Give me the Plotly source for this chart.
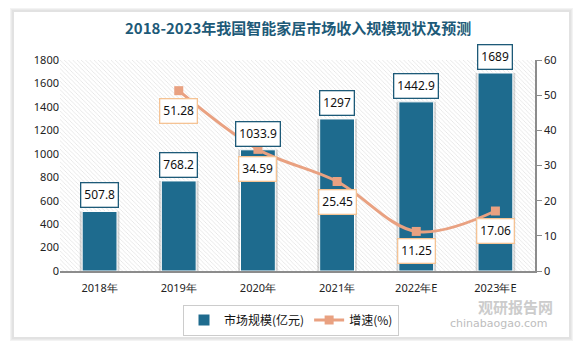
import plotly.graph_objects as go

years = ["2018年", "2019年", "2020年", "2021年", "2022年E", "2023年E"]
revenue = [507.8, 768.2, 1033.9, 1297, 1442.9, 1689]
growth = [None, 51.28, 34.59, 25.45, 11.25, 17.06]
bar_labels = ["507.8", "768.2", "1033.9", "1297", "1442.9", "1689"]
growth_labels = [None, "51.28", "34.59", "25.45", "11.25", "17.06"]

BAR = "#1E6B8E"
LINE = "#E9A181"
TITLE = "#1D5A78"

fig = go.Figure()

# hatched plot background (decorative, on hidden base axes)
fig.add_trace(go.Bar(x=[0.5], y=[1], width=[1], xaxis="x", yaxis="y",
                     marker=dict(color="white", line=dict(width=0),
                                 pattern=dict(shape="\\", fgcolor="#C4C4C4", bgcolor="white",
                                              size=3, solidity=0.25)),
                     showlegend=False, hoverinfo="skip"))

# bar shadow
fig.add_trace(go.Bar(x=years, y=revenue, xaxis="x2", yaxis="y2", width=0.5,
                     marker=dict(color="rgba(110,110,110,0.28)", line=dict(width=0)),
                     showlegend=False, hoverinfo="skip"))
fig.add_trace(go.Bar(x=years, y=revenue, xaxis="x2", yaxis="y2", width=0.44,
                     name="市场规模(亿元)",
                     marker=dict(color=BAR, line=dict(color="white", width=1))))
fig.add_trace(go.Scatter(x=years, y=growth, xaxis="x2", yaxis="y3", name="增速(%)",
                         mode="lines+markers", line=dict(color=LINE, width=3, shape="spline"),
                         marker=dict(symbol="square", size=9, color=LINE)))

for x, v, t in zip(years, revenue, bar_labels):
    fig.add_annotation(x=x, y=v, xref="x2", yref="y2", text=t, showarrow=False,
                       yshift=16, bgcolor="white", bordercolor=TITLE, borderwidth=1.3,
                       borderpad=3, font=dict(size=12, color="#111", family="Noto Sans"))
for x, v, t in zip(years, growth, growth_labels):
    if v is None:
        continue
    fig.add_annotation(x=x, y=v, xref="x2", yref="y3", text=t, showarrow=False,
                       yshift=-20, bgcolor="white", bordercolor="#F5C394", borderwidth=1.3,
                       borderpad=3, font=dict(size=12, color="#111", family="Noto Sans"))

fig.add_annotation(x=0.5, y=1, xref="paper", yref="paper", yanchor="bottom", yshift=20,
                   text="<b>2018-2023年我国智能家居市场收入规模现状及预测</b>", showarrow=False,
                   font=dict(size=15, color=TITLE, family="Noto Sans CJK SC"))

# watermark
fig.add_annotation(x=(555 - 60) / 475, y=(271 - 306) / 211, xref="paper", yref="paper",
                   text="<b>观研报告网</b>", showarrow=False, xanchor="right", yanchor="middle",
                   font=dict(size=15, color="#CCCCCC", family="Noto Sans CJK SC"))
fig.add_annotation(x=(550 - 60) / 475, y=(271 - 323) / 211, xref="paper", yref="paper",
                   text="chinabaogao.com", showarrow=False, xanchor="right", yanchor="middle",
                   font=dict(size=11, color="#BDBDBD", family="DejaVu Sans"))

# card with shadow
shapes = []
for i, c in enumerate(["#F3F3F3", "#EAEAEA", "#E2E2E2"]):
    d = 4 - i
    shapes.append(dict(type="rect", xref="paper", yref="paper", layer="below",
                       x0=(14 - d - 60) / 475, x1=(569 + d - 60) / 475,
                       y0=(271 - 337 - d) / 211, y1=(271 - 12 + d) / 211,
                       line=dict(width=0), fillcolor=c))
shapes.append(dict(type="rect", xref="paper", yref="paper", layer="below",
                   x0=(14 - 60) / 475, x1=(569 - 60) / 475,
                   y0=(271 - 337) / 211, y1=(271 - 12) / 211,
                   line=dict(width=0), fillcolor="white"))

tickfont = dict(size=11, color="#222", family="Noto Sans")
fig.update_layout(
    width=583, height=352,
    margin=dict(l=60, r=48, t=60, b=81),
    paper_bgcolor="white", plot_bgcolor="rgba(0,0,0,0)",
    shapes=shapes,
    barmode="overlay",
    xaxis=dict(range=[0, 1], visible=False, fixedrange=True),
    yaxis=dict(range=[0, 1], visible=False, fixedrange=True),
    xaxis2=dict(overlaying="x", anchor="y2", type="category", showgrid=False,
                showline=True, linecolor="#8C8C8C", linewidth=1.5, ticks="",
                tickfont=tickfont, ticklabelstandoff=6),
    yaxis2=dict(overlaying="y", side="left", range=[0, 1800], dtick=200, showgrid=False,
                zeroline=False, showline=False, tickfont=tickfont, anchor="x2"),
    yaxis3=dict(overlaying="y", side="right", range=[0, 60], dtick=10, showgrid=False,
                zeroline=False, showline=True, linecolor="#8C8C8C", linewidth=1.5,
                ticks="outside", ticklen=5, tickcolor="#8C8C8C", tickfont=tickfont,
                anchor="x2"),
    legend=dict(orientation="h", x=(291 - 60) / 475, y=(271 - 320) / 211,
                xanchor="center", yanchor="middle",
                bordercolor="#CCCCCC", borderwidth=1, bgcolor="white",
                font=dict(size=12, color="#111", family="Noto Sans CJK SC"),
                itemwidth=30, tracegroupgap=0),
    showlegend=True,
)

fig.write_html("out.html")
